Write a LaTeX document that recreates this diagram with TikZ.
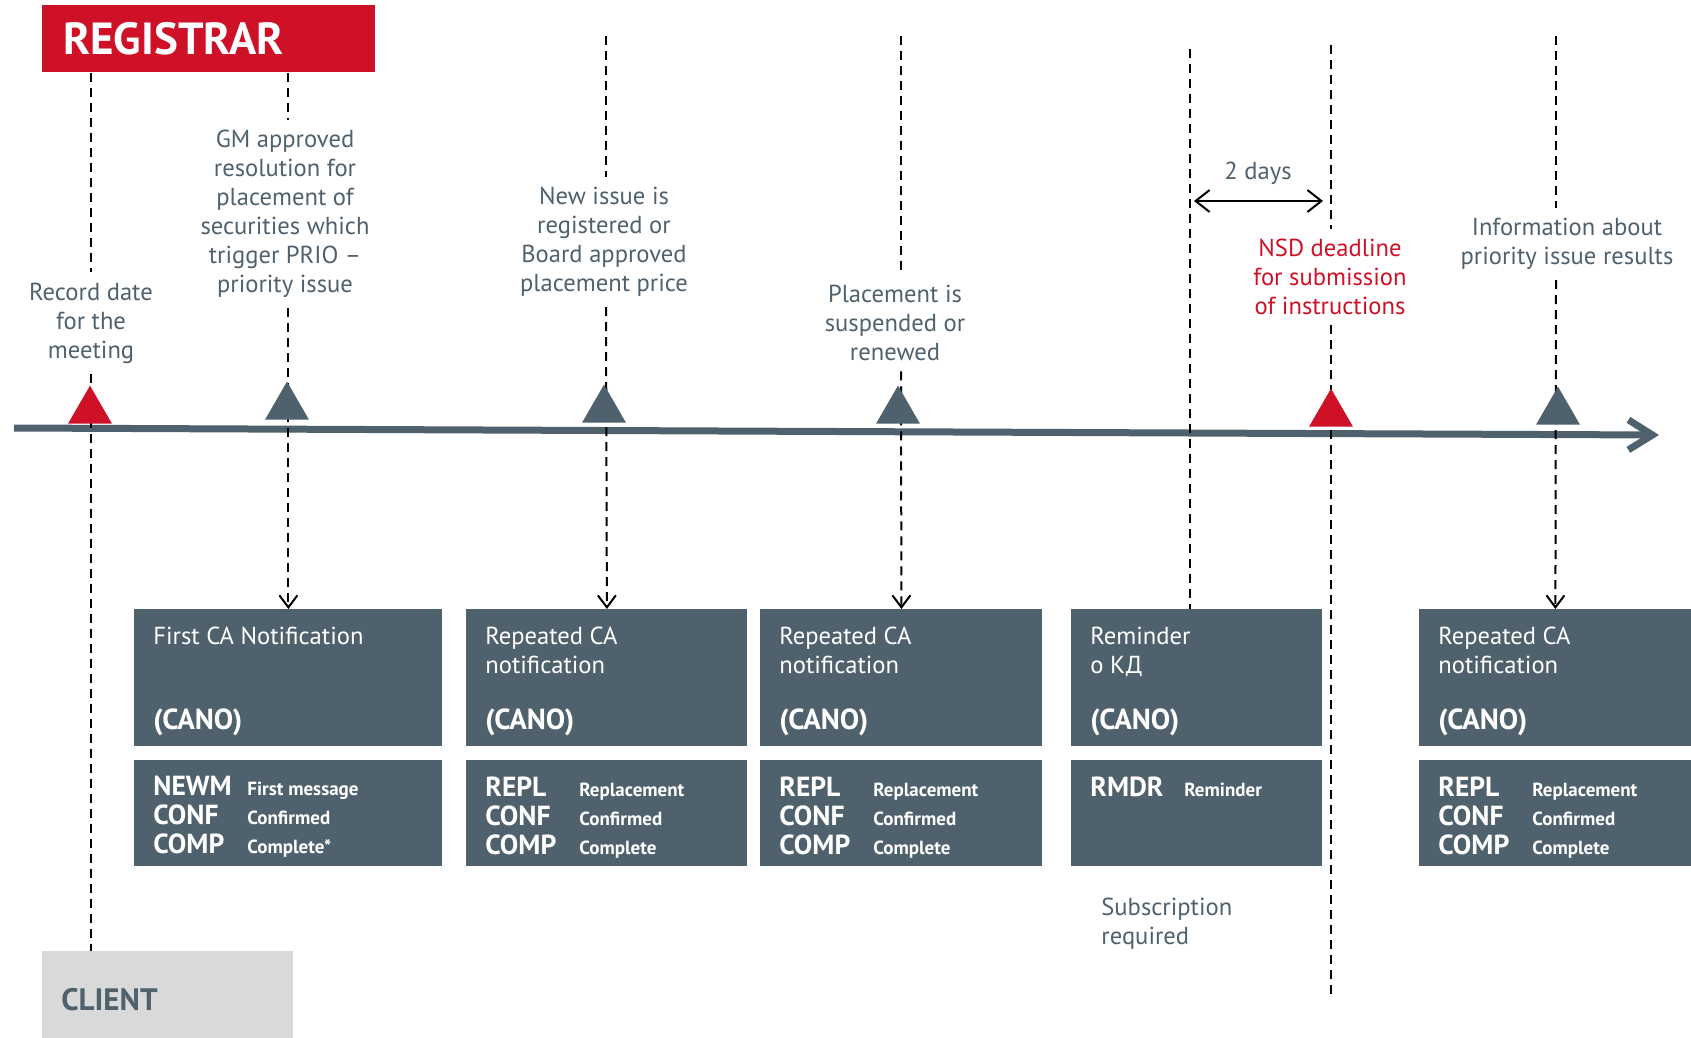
\documentclass[tikz,border=0pt]{standalone}
\usepackage{fontspec}
\setmainfont{PT Sans}
\usepackage{xcolor}
\usepackage{tikz}
\usetikzlibrary{shapes.geometric, arrows.meta, positioning, calc}
\definecolor{regred}{HTML}{CE1126}
\definecolor{slate}{HTML}{4F616D}
\definecolor{clientgray}{HTML}{D9D9D9}
\tikzstyle{evtext} = [text=slate, align=center, font=\fontsize{12.3}{14.5}\selectfont, inner sep=5pt]
\tikzstyle{evline} = [line width=1pt, dash pattern=on 4.5pt off 3pt]
\tikzstyle{evarrow} = [evline, -{Straight Barb[length=6pt,width=9pt]}]
\tikzstyle{marker} = [regular polygon, regular polygon sides=3, minimum size=25.4pt, inner sep=0pt, outer sep=0pt, fill=slate]
\tikzstyle{msgbox} = [fill=slate, anchor=north west, minimum height=68.5pt, inner sep=0pt]
\tikzstyle{codebox} = [fill=slate, anchor=north west, minimum height=53pt, inner sep=0pt]
\tikzstyle{boxtext} = [text=white, anchor=north west, align=left, inner sep=0pt, font=\fontsize{12.3}{14.5}\selectfont]
\tikzstyle{canotext} = [text=white, anchor=base west, inner sep=0pt, font=\bfseries\fontsize{14.5}{14.5}\selectfont]
\tikzstyle{codetext} = [text=white, anchor=north west, align=left, inner sep=0pt, font=\bfseries\fontsize{13.8}{14.5}\selectfont]
\newcommand{\msgline}[2]{\makebox[47pt][l]{#1}{\fontsize{9.5}{10}\selectfont #2}}

\begin{document}
\begin{tikzpicture}[x=0.5pt, y=-0.5pt]
    \useasboundingbox (0,0) rectangle (1691,1038);
    \node[fill=regred, text=white, anchor=north west, minimum width=166.5pt, minimum height=33.5pt, text width=145.5pt, inner xsep=10.5pt, align=left, font=\bfseries\fontsize{22.5}{24}\selectfont] (reg) at (42,5) {REGISTRAR};
    \node[fill=clientgray, text=slate, anchor=north west, minimum width=125.5pt, minimum height=43.5pt, text width=106.5pt, inner xsep=9.5pt, align=left, font=\bfseries\fontsize{15.5}{16}\selectfont] (client) at (42,951) {\raisebox{-2.5pt}[\height][\depth]{CLIENT}};

    \node[evtext] (rec) at (91,323) {Record date\\for the\\meeting};
    \node[evtext] (gm) at (285,214) {GM approved\\resolution for\\placement of\\securities which\\trigger PRIO –\\priority issue};
    \node[evtext] (newiss) at (604,242) {New issue is\\registered or\\Board approved\\placement price};
    \node[evtext] (susp) at (895,323) {Placement is\\suspended or\\renewed};
    \node[evtext, text=regred] (nsd) at (1330,277) {NSD deadline\\for submission\\of instructions};
    \node[evtext] (info) at (1567,244) {Information about\\priority issue results};
    \node[evtext, inner sep=0pt] (days) at (1258,173) {2 days};
    \node[evtext, align=left, anchor=west, inner sep=0pt] (subs) at (1101,924) {Subscription\\required};

    \node[msgbox, minimum width=154pt] (box1) at (134,609) {};
    \node[msgbox, minimum width=140.5pt] (box2) at (466,609) {};
    \node[msgbox, minimum width=141pt] (box3) at (760,609) {};
    \node[msgbox, minimum width=125.5pt] (box4) at (1071,609) {};
    \node[msgbox, minimum width=136pt] (box5) at (1419,609) {};
    \node[codebox, minimum width=154pt] (code1) at (134,760) {};
    \node[codebox, minimum width=140.5pt] (code2) at (466,760) {};
    \node[codebox, minimum width=141pt] (code3) at (760,760) {};
    \node[codebox, minimum width=125.5pt] (code4) at (1071,760) {};
    \node[codebox, minimum width=136pt] (code5) at (1419,760) {};

    \node[boxtext] (title1) at ($(box1.north west)+(19,18)$) {First CA Notification};
    \node[boxtext] (title2) at ($(box2.north west)+(19,18)$) {Repeated CA\\notification};
    \node[boxtext] (title3) at ($(box3.north west)+(19,18)$) {Repeated CA\\notification};
    \node[boxtext] (title4) at ($(box4.north west)+(19,18)$) {Reminder\\о КД};
    \node[boxtext] (title5) at ($(box5.north west)+(19,18)$) {Repeated CA\\notification};
    \node[canotext] (cano1) at ($(box1.south west)+(19,-17)$) {(CANO)};
    \node[canotext] (cano2) at ($(box2.south west)+(19,-17)$) {(CANO)};
    \node[canotext] (cano3) at ($(box3.south west)+(19,-17)$) {(CANO)};
    \node[canotext] (cano4) at ($(box4.south west)+(19,-17)$) {(CANO)};
    \node[canotext] (cano5) at ($(box5.south west)+(19,-17)$) {(CANO)};

    \node[codetext] (list1) at ($(code1.north west)+(19,16)$) {\msgline{NEWM}{First message}\\\msgline{CONF}{Confirmed}\\\msgline{COMP}{Complete*}};
    \node[codetext] (list2) at ($(code2.north west)+(19,16)$) {\msgline{REPL}{Replacement}\\\msgline{CONF}{Confirmed}\\\msgline{COMP}{Complete}};
    \node[codetext] (list3) at ($(code3.north west)+(19,16)$) {\msgline{REPL}{Replacement}\\\msgline{CONF}{Confirmed}\\\msgline{COMP}{Complete}};
    \node[codetext] (list4) at ($(code4.north west)+(19,16)$) {\msgline{RMDR}{Reminder}};
    \node[codetext] (list5) at ($(code5.north west)+(19,16)$) {\msgline{REPL}{Replacement}\\\msgline{CONF}{Confirmed}\\\msgline{COMP}{Complete}};

    \coordinate (ax0) at (14,428);
    \coordinate (ax1) at (1659,435);
    \draw[slate, line width=3.5pt, -{Straight Barb[length=12pt,width=15pt]}] (ax0) -- (ax1);

    \coordinate (top3) at (606,36);
    \coordinate (top4) at (901,36);
    \coordinate (top5) at (1190,49);
    \coordinate (top6) at (1331,45);
    \coordinate (top7) at (1556,36);
    \coordinate (bot6) at (1331,994);
    \draw[evline] (rec.north |- reg.south) -- (rec.north);
    \draw[evline] (rec.south) -- (rec.south |- client.north);
    \draw[evline] (box1.north |- reg.south) -- (box1.north |- gm.north);
    \draw[evarrow] (box1.north |- gm.south) -- (box1.north);
    \draw[evline] (top3) -- (top3 |- newiss.north);
    \draw[evarrow] (top3 |- newiss.south) -- (box2.north);
    \draw[evline] (top4) -- (top4 |- susp.north);
    \draw[evarrow] (top4 |- susp.south) -- (box3.north);
    \draw[evline] (top5) -- (top5 |- box4.north);
    \draw[evline] (top6) -- (top6 |- nsd.north);
    \draw[evline] (top6 |- nsd.south) -- (bot6);
    \draw[evline] (top7) -- (top7 |- info.north);
    \draw[evarrow] (top7 |- info.south) -- (box5.north);

    \coordinate (d0) at (1194,201);
    \coordinate (d1) at (1323,201);
    \draw[line width=1pt, {Straight Barb[length=7pt,width=11pt]}-{Straight Barb[length=7pt,width=11pt]}] (d0) -- (d1);

    \node[marker, fill=regred] (tri1) at (90,411) {};
    \node[marker] (tri2) at (287,407) {};
    \node[marker] (tri3) at (604,410) {};
    \node[marker] (tri4) at (898,411) {};
    \node[marker, fill=regred] (tri6) at (1331,414) {};
    \node[marker] (tri7) at (1558,412) {};
\end{tikzpicture}
\end{document}
